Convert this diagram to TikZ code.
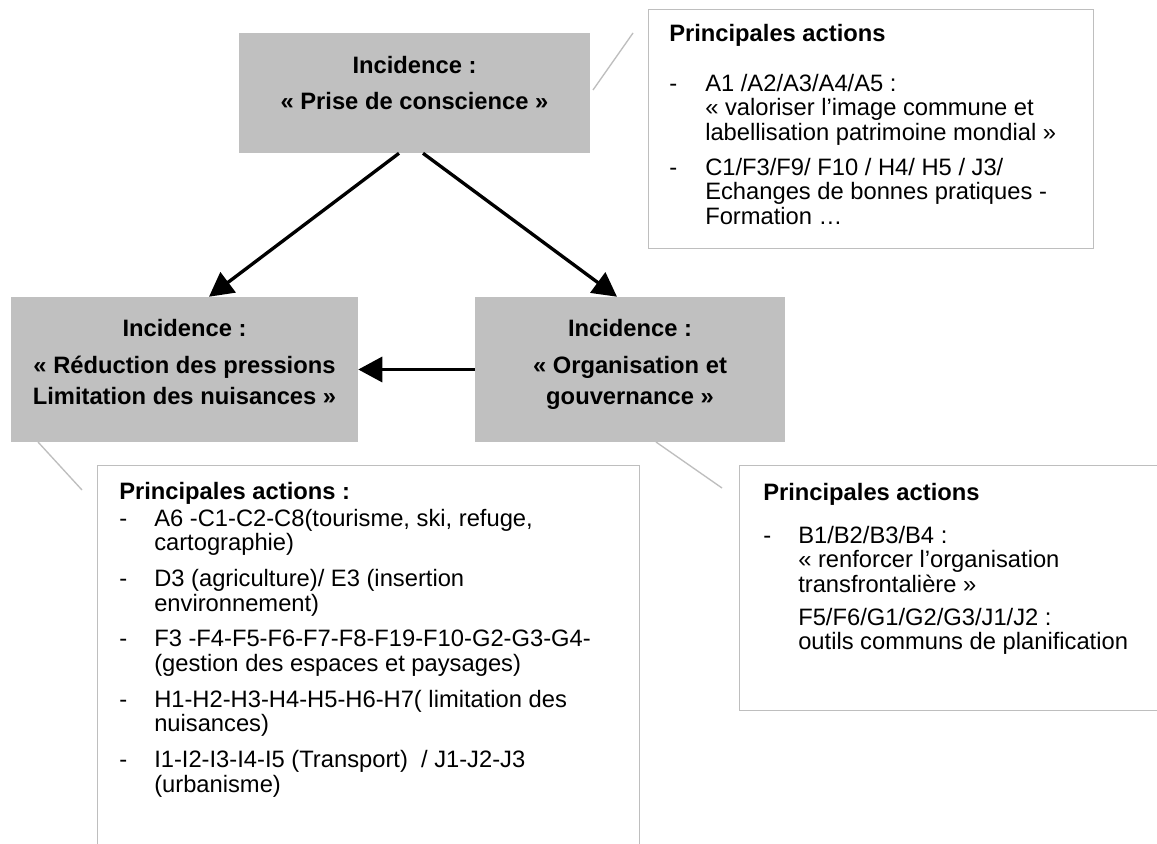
\documentclass[tikz,border=0pt]{standalone}
\usepackage{fontspec}
\setmainfont{Liberation Sans}
\usetikzlibrary{arrows.meta}
\newlength\px
\setlength\px{0.75pt}
\definecolor{boxgray}{RGB}{192,192,192}
\definecolor{framegray}{RGB}{190,190,190}
\tikzset{
  graybox/.style={fill=boxgray, draw=none, inner sep=0pt},
  frame/.style={draw=framegray, line width=1.1pt, fill=none, inner sep=0pt},
  inctext/.style={inner sep=0pt, font=\fontsize{17.8pt}{23.25pt}\selectfont\bfseries},
  notetext/.style={inner sep=0pt, font=\fontsize{17.8pt}{18.5pt}\selectfont},
  flow/.style={line width=2.5pt, -{Triangle[length=18pt,width=18.75pt]}},
  callout/.style={draw=framegray, line width=1pt},
}
\begin{document}
\begin{tikzpicture}[x=0.75pt,y=-0.75pt]
\useasboundingbox (0,0) rectangle (1157,843);
\clip (0,0) rectangle (1157,843);
\fill[white] (0,0) rectangle (1157,843);

% grey incidence boxes
\node[graybox, minimum width=351\px, minimum height=120\px] (topbox) at (414.5,93) {};
\node[graybox, minimum width=347\px, minimum height=145\px] (leftbox) at (184.5,369.5) {};
\node[graybox, minimum width=310\px, minimum height=145\px] (rightbox) at (630,369.5) {};

\node[inctext, anchor=base] (topbox-t) at (414.5,73.4)
  {\begin{tabular}[t]{@{}c@{}}Incidence :\\[5\px] « Prise de conscience »\end{tabular}};
\node[inctext, anchor=base] (leftbox-t) at (184.5,336.4)
  {\begin{tabular}[t]{@{}c@{}}Incidence :\\[6\px] « Réduction des pressions\\ Limitation des nuisances »\end{tabular}};
\node[inctext, anchor=base] (rightbox-t) at (630,336.4)
  {\begin{tabular}[t]{@{}c@{}}Incidence :\\[6\px] « Organisation et\\ gouvernance »\end{tabular}};

% arrows between the incidences
\draw[flow] ([xshift=-15.5\px]topbox.south) -- ([xshift=24.5\px]leftbox.north);
\draw[flow] ([xshift=8.5\px]topbox.south) -- ([xshift=-13\px]rightbox.north);
\draw[flow] (rightbox.west) -- (leftbox.east);

% action frames
\node[frame, anchor=north west, minimum width=445\px, minimum height=239\px] (notetop) at (648,9) {};
\node[frame, anchor=north west, minimum width=542\px, minimum height=420\px] (noteleft) at (97,465) {};
\node[frame, anchor=north west, minimum width=440\px, minimum height=245\px] (noteright) at (739,465) {};

\node[notetext, anchor=base west] (notetop-t) at (669,41.4)
  {\begin{tabular}[t]{@{}p{36\px}@{}l@{}}
   \multicolumn{2}{@{}l@{}}{\bfseries Principales actions}\\[25\px]
   - & A1 /A2/A3/A4/A5 :\\
     & « valoriser l’image commune et\\
     & labellisation patrimoine mondial »\\[10\px]
   - & C1/F3/F9/ F10 / H4/ H5 / J3/\\
     & Echanges de bonnes pratiques -\\
     & Formation …
   \end{tabular}};

\node[notetext, anchor=base west] (noteleft-t) at (119,499.4)
  {\begin{tabular}[t]{@{}p{35\px}@{}l@{}}
   \multicolumn{2}{@{}l@{}}{\bfseries Principales actions :}\\[2\px]
   - & A6 -C1-C2-C8(tourisme, ski, refuge,\\
     & cartographie)\\[11\px]
   - & D3 (agriculture)/ E3 (insertion\\
     & environnement)\\[11\px]
   - & F3 -F4-F5-F6-F7-F8-F19-F10-G2-G3-G4-\\
     & (gestion des espaces et paysages)\\[11\px]
   - & H1-H2-H3-H4-H5-H6-H7( limitation des\\
     & nuisances)\\[11\px]
   - & I1-I2-I3-I4-I5 (Transport)\ \ / J1-J2-J3\\
     & (urbanisme)
   \end{tabular}};

\node[notetext, anchor=base west] (noteright-t) at (763,500.4)
  {\begin{tabular}[t]{@{}p{35\px}@{}l@{}}
   \multicolumn{2}{@{}l@{}}{\bfseries Principales actions}\\[18\px]
   - & B1/B2/B3/B4 :\\
     & « renforcer l’organisation\\
     & transfrontalière »\\[8\px]
     & F5/F6/G1/G2/G3/J1/J2 :\\
     & outils communs de planification
   \end{tabular}};

% callout strokes linking incidences to their actions
\coordinate (ctop-a) at (593,90);
\coordinate (ctop-b) at (633,33);
\coordinate (cleft-a) at (38,442);
\coordinate (cleft-b) at (82,490);
\coordinate (cright-a) at (656,442);
\coordinate (cright-b) at (722,488);
\draw[callout] (ctop-a) -- (ctop-b);
\draw[callout] (cleft-a) -- (cleft-b);
\draw[callout] (cright-a) -- (cright-b);
\end{tikzpicture}
\end{document}
